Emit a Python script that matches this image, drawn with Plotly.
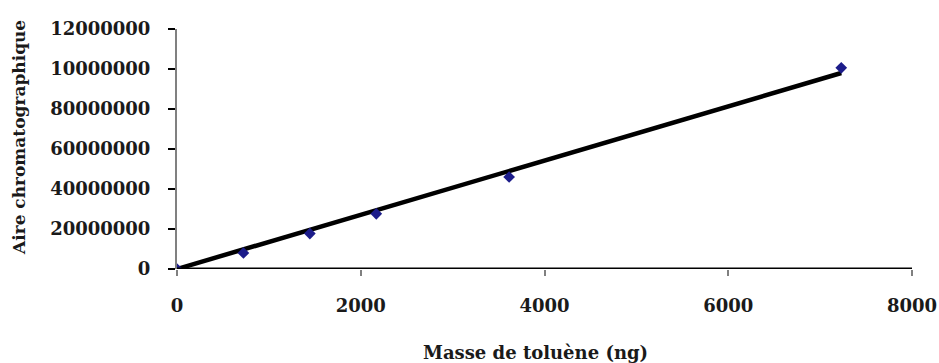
import numpy as np
import plotly.graph_objects as go

masse_toluene = [0, 723, 1446, 2169, 3615, 7230]
aire_chrom = [0, 8.0e6, 1.77e7, 2.76e7, 4.6e7, 1.006e8]

x_ticks = [0, 2000, 4000, 6000, 8000]
y_tickvals = [0, 2e7, 4e7, 6e7, 8e7, 1e8, 1.2e8]
y_ticktext = ["0", "20000000", "40000000", "60000000", "80000000", "10000000", "12000000"]

x_title = "Masse de toluène (ng)"
y_title = "Aire chromatographique"

x = np.array(masse_toluene, dtype=float)
y = np.array(aire_chrom, dtype=float)
slope = float((x * y).sum() / (x * x).sum())
fit_x = [x.min(), x.max()]
fit_y = [slope * v for v in fit_x]

FAM = "DejaVu Serif"
TXT = "#1a1a1a"

fig = go.Figure()
fig.add_trace(go.Scatter(x=fit_x, y=fit_y, mode="lines",
                         line=dict(color="black", width=4.5), hoverinfo="skip"))
fig.add_trace(go.Scatter(x=masse_toluene, y=aire_chrom, mode="markers",
                         marker=dict(symbol="diamond", size=9, color="#1c1c8a")))

fig.update_layout(
    width=939, height=363,
    margin=dict(l=177, r=27, t=29, b=94),
    paper_bgcolor="white", plot_bgcolor="white",
    showlegend=False,
    xaxis=dict(range=[0, 8000], tickvals=x_ticks, ticks="outside", ticklen=6,
               tickcolor="#808080", tickwidth=2, showgrid=False, zeroline=False,
               showline=False, ticklabelstandoff=14, automargin=False,
               tickfont=dict(family=FAM, size=18, color=TXT, weight="bold")),
    yaxis=dict(range=[0, 1.2e8], tickvals=y_tickvals, ticktext=y_ticktext,
               ticks="outside", ticklen=7, tickcolor="black", tickwidth=2,
               showgrid=False, zeroline=False, showline=True, linecolor="#808080",
               linewidth=2, ticklabelstandoff=14, automargin=False,
               tickfont=dict(family=FAM, size=18, color=TXT, weight="bold")),
    annotations=[
        dict(text="<b>%s</b>" % x_title, xref="paper", yref="paper",
             x=0.488, y=-0.346, showarrow=False, xanchor="center", yanchor="middle",
             font=dict(family=FAM, size=18, color=TXT)),
        dict(text="<b>%s</b>" % y_title, xref="paper", yref="paper",
             x=-0.215, y=0.55, showarrow=False, xanchor="center", yanchor="middle",
             textangle=-90, font=dict(family=FAM, size=17, color=TXT)),
    ],
)
fig.add_hline(y=0, line=dict(color="black", width=3))

fig.write_html("out.html", config={"displayModeBar": False},
               post_script="document.body.style.margin='0';document.body.style.overflow='hidden';")
